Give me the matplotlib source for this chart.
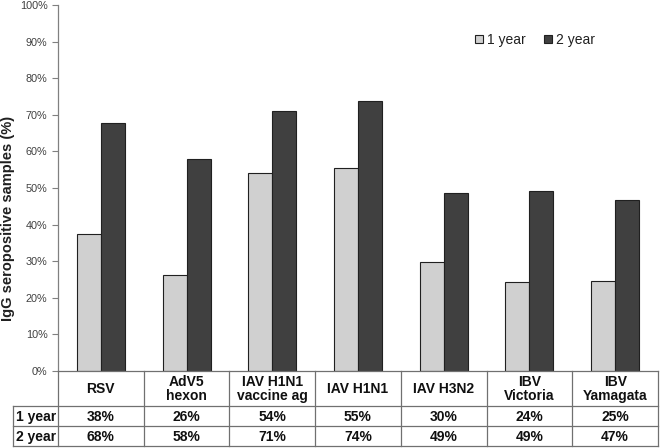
import matplotlib
matplotlib.use("Agg")
import matplotlib.pyplot as plt
import numpy as np

categories = ["RSV", "AdV5\nhexon", "IAV H1N1\nvaccine ag", "IAV H1N1",
              "IAV H3N2", "IBV\nVictoria", "IBV\nYamagata"]
year1 = [37.5, 26.2, 54.1, 55.4, 29.8, 24.3, 24.7]
year2 = [67.8, 57.9, 71.1, 73.9, 48.6, 49.3, 46.7]
year1_labels = ["38%", "26%", "54%", "55%", "30%", "24%", "25%"]
year2_labels = ["68%", "58%", "71%", "74%", "49%", "49%", "47%"]
series_names = ["1 year", "2 year"]
yticks = np.arange(0, 101, 10)

plt.rcParams['font.family'] = ['Liberation Sans', 'DejaVu Sans']

W, H = 660, 448
fig = plt.figure(figsize=(W / 100, H / 100), dpi=100)
x0, x1, ytop, ybot = 58, 658, 5, 371
ax = fig.add_axes([x0 / W, (H - ybot) / H, (x1 - x0) / W, (ybot - ytop) / H])

n = len(categories)
x = np.arange(n)
bw = 0.28
ax.bar(x - bw / 2, year1, bw, color="#d0d0d0", edgecolor="#202020", linewidth=0.8,
       label=series_names[0])
ax.bar(x + bw / 2, year2, bw, color="#404040", edgecolor="#202020", linewidth=0.8,
       label=series_names[1])

ax.set_xlim(-0.5, n - 0.5)
ax.set_ylim(0, 100)
ax.set_yticks(yticks)
ax.set_yticklabels([f"{t}%" for t in yticks], fontsize=7.8, color="#404040")
ax.tick_params(axis="y", length=4.5, width=0.8, color="#808080", pad=3)
ax.set_xticks([])
for s in ["top", "right", "bottom"]:
    ax.spines[s].set_visible(False)
ax.spines["left"].set_color("#808080")
ax.spines["left"].set_linewidth(0.9)

ax.set_ylabel("IgG seropositive samples (%)", fontsize=10.5, fontweight="bold",
              color="#202020")
ax.yaxis.set_label_coords((15 - x0) / (x1 - x0), (ybot - 218) / (ybot - ytop))

leg = ax.legend(loc="center", bbox_to_anchor=(0.795, 0.905), ncol=2, frameon=False,
                fontsize=10, handlelength=0.55, handleheight=0.55, handletextpad=0.3,
                columnspacing=1.3)
for t in leg.get_texts():
    t.set_color("#202020")

# data table (manual)
tl, tb = 13, 446
tax = fig.add_axes([tl / W, (H - tb) / H, (x1 - tl) / W, (tb - ybot) / H])
rl_w = (x0 - tl) / ((x1 - x0) / n)
tax.set_xlim(-0.5 - rl_w, n - 0.5)
hdr_h, row_h = 35, 20
tot = hdr_h + 2 * row_h
tax.set_ylim(tot, 0)
tax.axis("off")
lc, lw = "#707070", 0.9
tax.plot([-0.5, n - 0.5], [0, 0], color=lc, lw=lw, clip_on=False)
for yy in [hdr_h, hdr_h + row_h, tot]:
    tax.plot([-0.5 - rl_w, n - 0.5], [yy, yy], color=lc, lw=lw, clip_on=False)
tax.plot([-0.5 - rl_w] * 2, [hdr_h, tot], color=lc, lw=lw, clip_on=False)
for i in range(n + 1):
    tax.plot([i - 0.5] * 2, [0, tot], color=lc, lw=lw, clip_on=False)
tfont = dict(fontsize=10, fontweight="bold", color="#101010")
for i, c in enumerate(categories):
    tax.text(i, hdr_h / 2 + 0.5, c, ha="center", va="center", linespacing=1.05, **tfont)
    tax.text(i, hdr_h + row_h / 2 + 0.5, year1_labels[i], ha="center", va="center", **tfont)
    tax.text(i, hdr_h + 1.5 * row_h + 0.5, year2_labels[i], ha="center", va="center", **tfont)
for j, name in enumerate(series_names):
    tax.text(-0.5 - rl_w + 0.03, hdr_h + (j + 0.5) * row_h + 0.5, name,
             ha="left", va="center", **tfont)

fig.savefig("out.png", dpi=100)
